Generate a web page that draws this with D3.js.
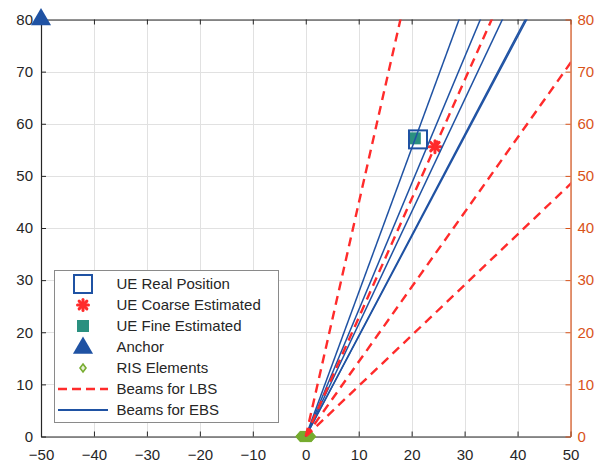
<!DOCTYPE html>
<html>
<head>
<meta charset="utf-8">
<script src="https://cdn.jsdelivr.net/npm/d3@7"></script>
<style>
  html, body { margin: 0; padding: 0; background: #fff; }
  svg { display: block; font-family: "Liberation Sans", Arial, Helvetica, sans-serif; }
</style>
</head>
<body>
<svg id="chart" width="596" height="469"></svg>
<script>
// Axis ticks
const xTicks = [-50, -40, -30, -20, -10, 0, 10, 20, 30, 40, 50];
const yTicks = [0, 10, 20, 30, 40, 50, 60, 70, 80];

// Positions (metres)
const uePosition = [21.2, 57.0];
const ueCoarse   = [24.4, 55.6];
const ueFine     = [20.6, 57.2];
const anchorPos  = [-50, 80];
const risX = [-1.05, -0.95, -0.85, -0.75, -0.65, -0.55, -0.45, -0.35, -0.25, -0.15, -0.05,
              0.05, 0.15, 0.25, 0.35, 0.45, 0.55, 0.65, 0.75, 0.85, 0.95, 1.05];
const risOrigin = [0, 0];

// Beam directions from the RIS (degrees from the x axis)
const lbsBeams = [77.4, 66.3, 55.1, 44.1];
const ebsBeams = [70.1, 67.6, 65.1, 62.6, 62.45];

const legendLabels = ["UE Real Position", "UE Coarse Estimated", "UE Fine Estimated", "Anchor", "RIS Elements", "Beams for LBS", "Beams for EBS"];

const C = {
  axis: "#262626",
  right: "#D95319",
  grid: "#E1E1E1",
  blue: "#1F52A3",
  red: "#FF2B2B",
  teal: "#2A9080",
  green: "#77AC30"
};

const svg = d3.select("#chart");
const L = 41, R = 570.5, T = 19.5, B = 436.5;
const x = d3.scaleLinear().domain([-50, 50]).range([L, R]);
const y = d3.scaleLinear().domain([0, 80]).range([B, T]);
const yR = d3.scaleLinear().domain([0, 80]).range([B, T]);

svg.append("defs").append("clipPath").attr("id", "plot")
  .append("rect").attr("x", L).attr("y", T).attr("width", R - L).attr("height", B - T);

// Grid
const grid = svg.append("g");
grid.selectAll("line.gx").data(xTicks).join("line")
  .attr("x1", d => Math.round(x(d)) + 0.5).attr("x2", d => Math.round(x(d)) + 0.5)
  .attr("y1", T).attr("y2", B).attr("stroke", C.grid).attr("stroke-width", 1);
grid.selectAll("line.gy").data(yTicks).join("line")
  .attr("y1", d => Math.round(y(d)) + 0.5).attr("y2", d => Math.round(y(d)) + 0.5)
  .attr("x1", L).attr("x2", R).attr("stroke", C.grid).attr("stroke-width", 1);

// Axes
function styleAxis(g, color) {
  g.selectAll("path.domain").attr("stroke", color).attr("stroke-width", 1.2);
  g.selectAll(".tick line").attr("stroke", color);
  g.selectAll(".tick text").attr("fill", color).attr("font-size", 15).attr("font-family", null);
}
svg.append("g").attr("transform", `translate(0,${B})`)
  .call(d3.axisBottom(x).tickValues(xTicks).tickSizeInner(-5).tickSizeOuter(0).tickPadding(13))
  .call(g => styleAxis(g, C.axis));
svg.append("g").attr("transform", `translate(0,${T})`)
  .call(d3.axisTop(x).tickValues(xTicks).tickSizeInner(-5).tickSizeOuter(0).tickFormat(""))
  .call(g => styleAxis(g, C.axis));
svg.append("g").attr("transform", `translate(${L},0)`)
  .call(d3.axisLeft(y).tickValues(yTicks).tickSizeInner(-5).tickSizeOuter(0).tickPadding(8))
  .call(g => styleAxis(g, C.axis));
svg.append("g").attr("transform", `translate(${R},0)`)
  .call(d3.axisRight(yR).tickValues(yTicks).tickSizeInner(-5).tickSizeOuter(0).tickPadding(7))
  .call(g => styleAxis(g, C.right));

// Markers
const marks = svg.append("g");
const sq = 18;
function asterisk(g, cx, cy, r) {
  for (let k = 0; k < 4; k++) {
    const a = k * Math.PI / 4;
    g.append("line")
      .attr("x1", cx - r * Math.cos(a)).attr("y1", cy - r * Math.sin(a))
      .attr("x2", cx + r * Math.cos(a)).attr("y2", cy + r * Math.sin(a))
      .attr("stroke", C.red).attr("stroke-width", 3).attr("stroke-linecap", "round");
  }
}
function diamond(g, cx, cy, fill) {
  g.append("path")
    .attr("d", `M${cx},${cy - 4.5}L${cx + 4},${cy}L${cx},${cy + 4.5}L${cx - 4},${cy}Z`)
    .attr("fill", fill).attr("stroke", C.green).attr("stroke-width", 1.6);
}

risX.forEach(v => diamond(marks, x(v), y(0), "none"));

marks.append("rect")
  .attr("x", x(ueFine[0]) - 6).attr("y", y(ueFine[1]) - 6)
  .attr("width", 12).attr("height", 12).attr("fill", C.teal);
marks.append("rect")
  .attr("x", x(uePosition[0]) - sq / 2).attr("y", y(uePosition[1]) - sq / 2)
  .attr("width", sq).attr("height", sq)
  .attr("fill", "none").attr("stroke", C.blue).attr("stroke-width", 2);
asterisk(marks, x(ueCoarse[0]), y(ueCoarse[1]), 6);

// Beams from the RIS
const beams = svg.append("g").attr("clip-path", "url(#plot)");
const far = 200;
beams.selectAll("line.ebs").data(ebsBeams).join("line")
  .attr("x1", x(risOrigin[0])).attr("y1", y(risOrigin[1]))
  .attr("x2", d => x(risOrigin[0] + far * Math.cos(d * Math.PI / 180)))
  .attr("y2", d => y(risOrigin[1] + far * Math.sin(d * Math.PI / 180)))
  .attr("stroke", C.blue).attr("stroke-width", 1.5);
beams.selectAll("line.lbs").data(lbsBeams).join("line")
  .attr("x1", x(risOrigin[0])).attr("y1", y(risOrigin[1]))
  .attr("x2", d => x(risOrigin[0] + far * Math.cos(d * Math.PI / 180)))
  .attr("y2", d => y(risOrigin[1] + far * Math.sin(d * Math.PI / 180)))
  .attr("stroke", C.red).attr("stroke-width", 2.4).attr("stroke-dasharray", "9,6");

// Anchor (drawn unclipped at the corner)
svg.append("path")
  .attr("d", d3.symbol(d3.symbolTriangle, 175)())
  .attr("transform", `translate(${x(anchorPos[0])},${y(anchorPos[1])})`)
  .attr("fill", C.blue);

// Legend
const lg = svg.append("g");
lg.append("rect").attr("x", 54.5).attr("y", 270.5).attr("width", 224).attr("height", 152)
  .attr("fill", "#fff").attr("stroke", "#8a8a8a").attr("stroke-width", 1);
const rowY = i => 284 + i * 21;
const mx = 83;
lg.append("rect").attr("x", mx - 9).attr("y", rowY(0) - 9).attr("width", 18).attr("height", 18)
  .attr("fill", "none").attr("stroke", C.blue).attr("stroke-width", 2);
asterisk(lg, mx, rowY(1), 5.5);
lg.append("rect").attr("x", mx - 6).attr("y", rowY(2) - 6).attr("width", 12).attr("height", 12).attr("fill", C.teal);
lg.append("path").attr("d", d3.symbol(d3.symbolTriangle, 175)())
  .attr("transform", `translate(${mx},${rowY(3) + 1})`).attr("fill", C.blue);
lg.append("path")
  .attr("d", `M${mx},${rowY(4) - 4}L${mx + 3},${rowY(4)}L${mx},${rowY(4) + 4}L${mx - 3},${rowY(4)}Z`)
  .attr("fill", "#E8F0D8").attr("stroke", C.green).attr("stroke-width", 1.6);
lg.append("line").attr("x1", 58).attr("x2", 108).attr("y1", rowY(5)).attr("y2", rowY(5))
  .attr("stroke", C.red).attr("stroke-width", 2.4).attr("stroke-dasharray", "9,5");
lg.append("line").attr("x1", 58).attr("x2", 108).attr("y1", rowY(6)).attr("y2", rowY(6))
  .attr("stroke", C.blue).attr("stroke-width", 2);
lg.selectAll("text").data(legendLabels).join("text")
  .attr("x", 116.5).attr("y", (d, i) => rowY(i)).attr("dy", "0.36em")
  .attr("font-size", 15).attr("fill", C.axis).text(d => d);
</script>
</body>
</html>
